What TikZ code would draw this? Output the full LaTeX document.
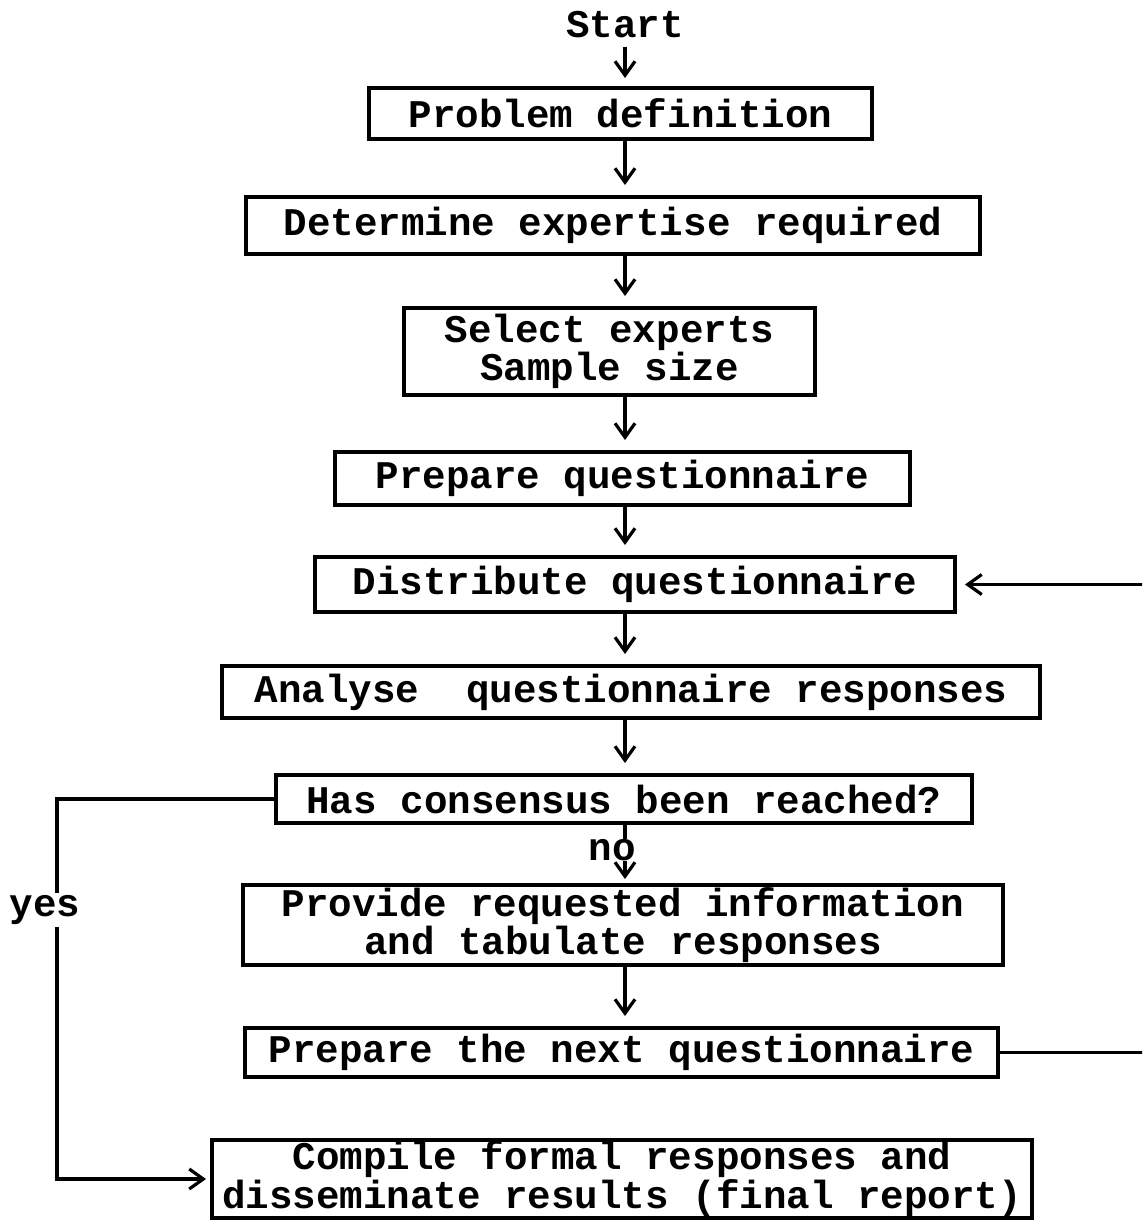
\documentclass[tikz,border=0pt]{standalone}
\usepackage{fontspec}
\setmainfont{Liberation Mono}
\usetikzlibrary{arrows.meta}
\newcommand\flowfont{\fontsize{19.6}{17.5}\selectfont\bfseries}

\begin{document}
\begin{tikzpicture}[x=0.5pt,y=-0.5pt,
        box/.style={draw,line width=2pt,align=center,inner sep=0pt,font=\flowfont},
        lbl/.style={inner sep=1pt,font=\flowfont},
        arr/.style={line width=1.6pt,-{Straight Barb[length=7pt,width=10pt]}}]

    \useasboundingbox (0,0) rectangle (1142,1221);
    \clip (0,0) rectangle (1142,1221);

    \node[lbl] (start) at (625,25) {Start};
    \node[box,minimum width=251.5pt,minimum height=25.5pt] (prob) at (620.5,113.5) {Problem definition};
    \node[box,minimum width=367pt,minimum height=28.5pt] (expert) at (613,225.5) {Determine expertise required};
    \node[box,minimum width=205.5pt,minimum height=43.5pt] (select) at (609.5,351.5) {Select experts\\Sample size};
    \node[box,minimum width=287.5pt,minimum height=26.5pt] (prep) at (622.5,478.5) {Prepare questionnaire};
    \node[box,minimum width=320pt,minimum height=27.5pt] (dist) at (635,584.5) {Distribute questionnaire};
    \node[box,minimum width=409pt,minimum height=26pt] (anal) at (631,692) {Analyse\ \ questionnaire responses};
    \node[box,minimum width=348pt,minimum height=24pt] (cons) at (624,799) {Has consensus been reached?};
    \node[box,minimum width=380pt,minimum height=40pt] (prov) at (623,925) {Provide requested information\\and tabulate responses};
    \node[box,minimum width=376.5pt,minimum height=24.5pt] (next) at (621.5,1052.5) {Prepare the next questionnaire};
    \node[box,minimum width=410pt,minimum height=39pt] (comp) at (622,1179) {Compile formal responses and\\disseminate results (final report)};

    \foreach \a/\b in {prob/expert,expert/select,select/prep,prep/dist,dist/anal,anal/cons,prov/next}
    \draw[arr,shorten >=5pt] (\a.south -| start) -- (\b.north -| start);
    \draw[arr,shorten <=3pt,shorten >=4pt] (start.south) -- (prob.north -| start);

    \draw[arr,shorten >=2pt] (cons.south -| start) -- (prov.north -| start);
    \node[lbl,fill=white,inner sep=0pt] (no) at (612,850) {no};

    \coordinate (yesturn) at (57,799);
    \draw[arr,shorten >=2pt] (cons.west) -- (yesturn) |- (comp.west);
    \node[lbl,fill=white] (yes) at (45,910) {yes};

    \coordinate (loop) at (1170,1052.5);
    \draw[arr,shorten >=4pt] (next.east) -- (loop) |- (dist.east);
\end{tikzpicture}
\end{document}
